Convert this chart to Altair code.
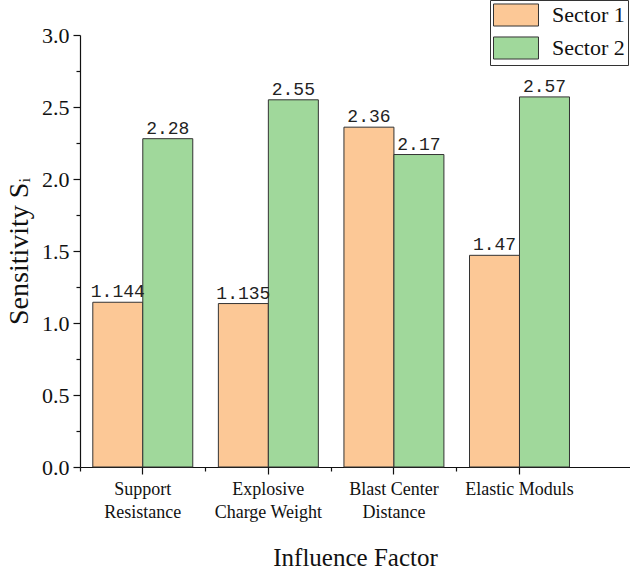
import altair as alt
import pandas as pd

# Sensitivity of each influence factor, per sector
factors = ["Support|Resistance", "Explosive|Charge Weight", "Blast Center|Distance", "Elastic Moduls"]
sectors = ["Sector 1", "Sector 2"]
sector1 = [1.144, 1.135, 2.36, 1.47]
sector2 = [2.28, 2.55, 2.17, 2.57]
colors = ["#FCC896", "#A0D89B"]

y_major = [0, 0.5, 1.0, 1.5, 2.0, 2.5, 3.0]
y_minor = [0.25, 0.75, 1.25, 1.75, 2.25, 2.75]

rows = []
for f, a, b in zip(factors, sector1, sector2):
    rows.append({"factor": f, "sector": sectors[0], "value": a})
    rows.append({"factor": f, "sector": sectors[1], "value": b})
df = pd.DataFrame(rows)

SERIF = "Liberation Serif"

x_scale = alt.Scale(domain=factors, paddingInner=0, paddingOuter=0.19, align=0)
xoff_scale = alt.Scale(domain=sectors, paddingInner=0, paddingOuter=0.256)
y_scale = alt.Scale(domain=[0, 3.0], nice=False, zero=True)

major_x_axis = alt.Axis(
    orient="bottom", title="Influence Factor", labelAngle=0,
    labelExpr="split(datum.label, '|')", labelFont=SERIF, labelFontSize=18,
    labelLineHeight=23, labelColor="#111", labelPadding=6, labelBaseline="top",
    titleFont=SERIF, titleFontSize=25, titleFontWeight="normal", titleColor="#111",
    titlePadding=24, tickSize=7, tickColor="#111", tickWidth=1.2,
    domainColor="#111", domainWidth=1.2, grid=False,
)
minor_x_axis = alt.Axis(
    orient="bottom", title=None, labels=False, domain=False, bandPosition=0,
    tickSize=4, tickColor="#111", tickWidth=1.2, grid=False,
)
major_y_axis = alt.Axis(
    orient="left", values=y_major, format=".1f", title="Sensitivity Sᵢ",
    labelFont=SERIF, labelFontSize=22, labelColor="#111", labelPadding=4,
    titleFont=SERIF, titleFontSize=28, titleFontWeight="normal", titleColor="#111",
    titlePadding=8, tickSize=7, tickColor="#111", tickWidth=1.2,
    domainColor="#111", domainWidth=1.2, grid=False,
)
minor_y_axis = alt.Axis(
    orient="left", values=y_minor, labels=False, domain=False, title=None,
    tickSize=4, tickColor="#111", tickWidth=1.2, grid=False,
)

base = alt.Chart(df)

bars = base.mark_bar(stroke="#333333", strokeWidth=1).encode(
    x=alt.X("factor:N", scale=x_scale, axis=major_x_axis, sort=factors),
    xOffset=alt.XOffset("sector:N", scale=xoff_scale),
    y=alt.Y("value:Q", scale=y_scale, axis=major_y_axis),
    color=alt.Color(
        "sector:N",
        scale=alt.Scale(domain=sectors, range=colors),
        legend=alt.Legend(
            title=None, orient="none", legendX=410, legendY=-35,
            # wide rectangular swatch
            symbolType="M-2,-0.98H2V0.98H-2Z", symbolSize=506,
            symbolOffset=11, symbolStrokeColor="#333333", symbolStrokeWidth=1,
            labelFont=SERIF, labelFontSize=22, labelColor="#111",
            labelOffset=24, rowPadding=5, padding=3,
            strokeColor="#333333", fillColor="white",
        ),
    ),
)

labels = base.transform_calculate(txt="'' + datum.value").mark_text(
    font="Liberation Mono", fontSize=18, baseline="bottom", dy=-1, color="#222"
).encode(
    x=alt.X("factor:N", scale=x_scale, axis=None, sort=factors),
    xOffset=alt.XOffset("sector:N", scale=xoff_scale),
    y=alt.Y("value:Q", scale=y_scale, axis=None),
    text="txt:N",
)

minor = base.mark_bar(opacity=0).encode(
    x=alt.X("factor:N", scale=x_scale, axis=minor_x_axis, sort=factors),
    y=alt.Y("value:Q", scale=y_scale, axis=minor_y_axis),
)

chart = alt.layer(bars, labels, minor).resolve_axis(
    x="independent", y="independent"
).properties(
    width=550, height=432,
    autosize=alt.AutoSizeParams(type="none"),
    padding={"left": 80, "top": 35, "right": 0, "bottom": 102},
).configure_view(stroke=None)

chart.save("out.html", embed_options={"renderer": "svg", "actions": False})
